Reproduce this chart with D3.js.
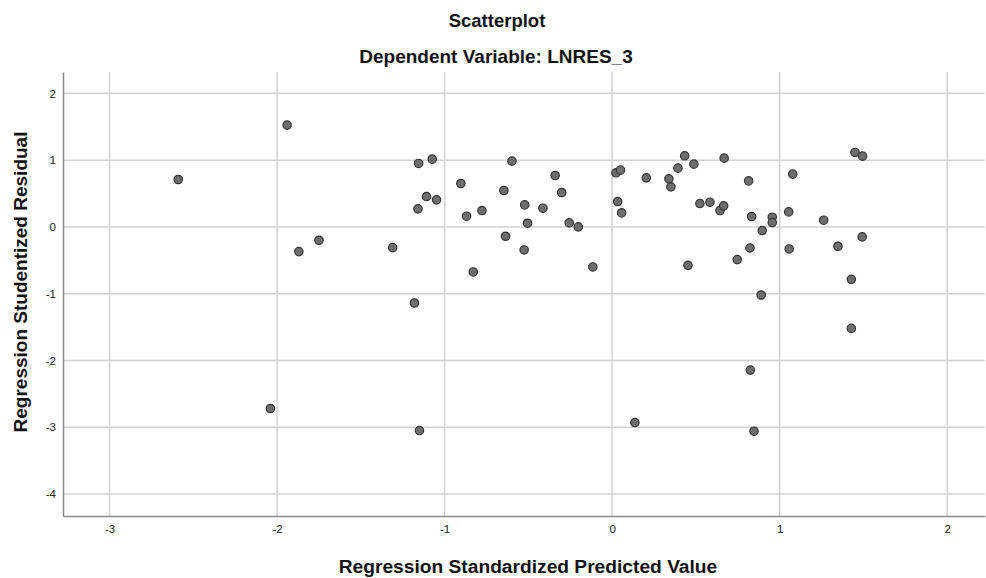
<!DOCTYPE html>
<html><head><meta charset="utf-8">
<script src="https://cdn.jsdelivr.net/npm/d3@7"></script>
<style>html,body{margin:0;padding:0;background:#fff;} svg{display:block;}</style>
</head><body>
<script>
const xTicks = [-3,-2,-1,0,1,2];
const yTicks = [2,1,0,-1,-2,-3,-4];
const predicted = [-2.59,-1.94,-1.87,-1.75,-2.04,-1.31,-1.18,-1.15,-1.155,-1.074,-0.903,-1.108,-1.048,-1.159,-0.869,-0.777,-0.598,-0.646,-0.34,-0.301,-0.522,-0.413,-0.505,-0.256,-0.202,-0.636,-0.525,-0.829,-0.115,0.023,0.05,0.033,0.057,0.204,0.136,0.339,0.351,0.393,0.433,0.488,0.669,0.815,1.078,1.45,1.495,0.524,0.584,0.644,0.666,0.833,0.956,0.956,0.896,1.054,1.263,0.823,1.057,1.348,1.493,0.747,0.453,1.428,0.89,1.428,0.825,0.847];
const residual = [0.71,1.525,-0.37,-0.2,-2.72,-0.31,-1.14,-3.05,0.95,1.015,0.65,0.455,0.405,0.27,0.16,0.245,0.985,0.545,0.77,0.515,0.33,0.28,0.055,0.06,0.0,-0.14,-0.345,-0.675,-0.6,0.81,0.85,0.38,0.21,0.735,-2.93,0.72,0.6,0.88,1.065,0.94,1.03,0.69,0.79,1.115,1.06,0.35,0.37,0.245,0.315,0.155,0.145,0.065,-0.055,0.225,0.1,-0.315,-0.33,-0.29,-0.15,-0.49,-0.575,-0.785,-1.02,-1.52,-2.145,-3.06];

const W = 986, H = 578;
const FONT = "'Liberation Sans', Arial, sans-serif";
const svg = d3.select("body").append("svg").attr("width", W).attr("height", H)
  .style("font-family", FONT);
const L = 63, R = 985, T = 72, B = 516;
const x = d3.scaleLinear().domain([-3.278, 2.226]).range([L, R]);
const y = d3.scaleLinear().domain([-4.33, 2.32]).range([B, T]);
const fmt = d => String(d);  // plain hyphen-minus like the reference

// gridlines
svg.append("g").selectAll("line").data(xTicks).join("line")
  .attr("x1", d => x(d)).attr("x2", d => x(d)).attr("y1", T).attr("y2", B)
  .attr("stroke", "#d2d2d2").attr("stroke-width", 1.5);
svg.append("g").selectAll("line").data(yTicks).join("line")
  .attr("x1", L).attr("x2", R).attr("y1", d => y(d)).attr("y2", d => y(d))
  .attr("stroke", "#d2d2d2").attr("stroke-width", 1.5);

// axes
const xAxis = d3.axisBottom(x).tickValues(xTicks).tickSize(0).tickPadding(9).tickFormat(fmt);
const yAxis = d3.axisLeft(y).tickValues(yTicks).tickSize(0).tickPadding(7).tickFormat(fmt);
const gx = svg.append("g").attr("transform", `translate(0,${B})`).call(xAxis);
const gy = svg.append("g").attr("transform", `translate(${L},0)`).call(yAxis);
[gx, gy].forEach(g => {
  g.select(".domain").attr("stroke", "#8a8a8a").attr("stroke-width", 1.5);
  g.selectAll("text").attr("fill", "#222").style("font-size", "11.5px")
   .style("font-family", FONT);
});

// points
const pts = predicted.map((p, i) => ({p, r: residual[i]}));
svg.append("g").selectAll("circle").data(pts).join("circle")
  .attr("cx", d => x(d.p)).attr("cy", d => y(d.r)).attr("r", 4.2)
  .attr("fill", "#6e6e6e").attr("stroke", "#333").attr("stroke-width", 1.2);

// titles
svg.append("text").attr("x", 497).attr("y", 27).attr("text-anchor", "middle")
  .style("font-size", "18.5px").style("font-weight", "bold").attr("fill", "#111").text("Scatterplot");
svg.append("text").attr("x", 496).attr("y", 63).attr("text-anchor", "middle")
  .style("font-size", "19px").style("font-weight", "bold").attr("fill", "#111").text("Dependent Variable: LNRES_3");
svg.append("text").attr("x", 528).attr("y", 573).attr("text-anchor", "middle")
  .style("font-size", "19.2px").style("font-weight", "bold").attr("fill", "#111").text("Regression Standardized Predicted Value");
svg.append("text").attr("transform", "translate(27,282) rotate(-90)").attr("text-anchor", "middle")
  .style("font-size", "19px").style("font-weight", "bold").attr("fill", "#111").text("Regression Studentized Residual");
</script>
</body></html>
